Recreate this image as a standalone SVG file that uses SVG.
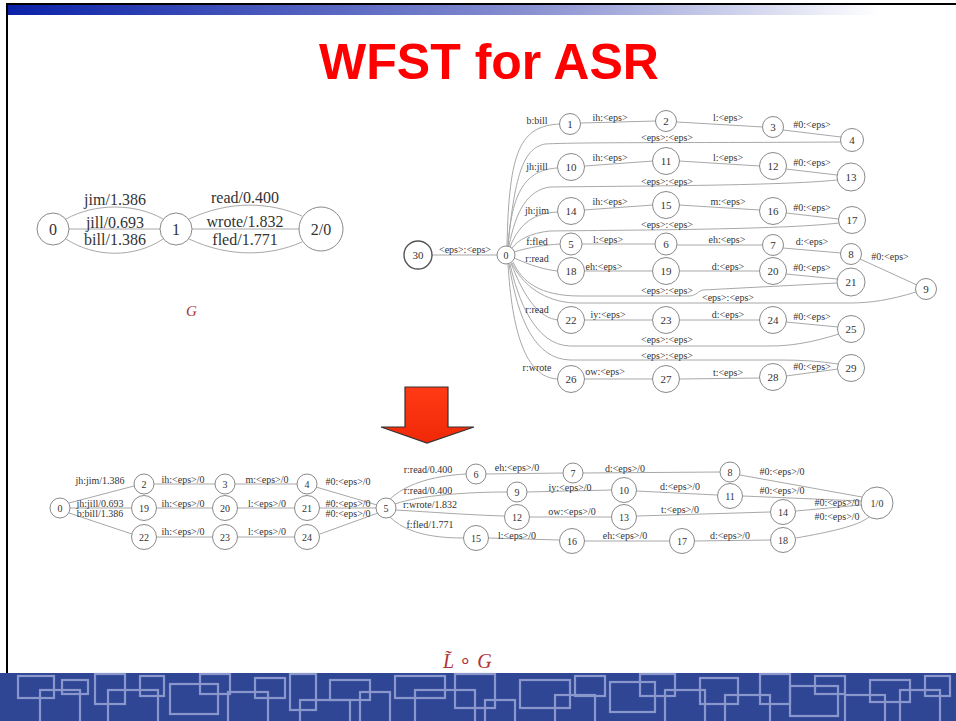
<svg xmlns="http://www.w3.org/2000/svg" width="956" height="721" viewBox="0 0 956 721">
<defs>
<linearGradient id="topbar" x1="0" y1="0" x2="1" y2="0">
<stop offset="0" stop-color="#0a22a8"/>
<stop offset="0.55" stop-color="#8890d0"/>
<stop offset="0.92" stop-color="#ffffff"/>
</linearGradient>
<linearGradient id="arrowfill" x1="0" y1="0" x2="0" y2="1">
<stop offset="0" stop-color="#ff3a14"/>
<stop offset="1" stop-color="#f02808"/>
</linearGradient>
</defs>
<style>
.e{fill:none;stroke:#a8a8a8;stroke-width:1}
.n{fill:#fff;stroke:#8a8a8a;stroke-width:1}
.nb{fill:#fff;stroke:#555;stroke-width:1.4}
.t{font-family:"Liberation Serif","Times New Roman",serif;fill:#333;text-anchor:middle}
.s10{font-size:10px}
.s11{font-size:11px}
.s16{font-size:16px}
.g{font-family:"Liberation Serif","Times New Roman",serif;fill:#b0343a;font-style:italic}
.bp{fill:none;stroke:#8a97cc;stroke-width:2.2}
</style>
<rect x="0" y="0" width="956" height="721" fill="#fff"/>
<!-- frame -->
<rect x="7" y="3" width="949" height="2" fill="#000"/>
<rect x="8" y="5" width="948" height="10" fill="url(#topbar)"/>
<rect x="6" y="3" width="2" height="670" fill="#000"/>
<text x="489" y="79" font-family="Liberation Sans, Arial, sans-serif" font-size="50" font-weight="bold" fill="#f00" text-anchor="middle">WFST for ASR</text>

<!-- G graph -->
<g id="G-connectors">
<path class="e" d="M66,219 C95,203 135,203 163,219"/>
<path class="e" d="M69,229 L160,229"/>
<path class="e" d="M66,239 C95,258 135,258 163,239"/>
<path class="e" d="M189,219 C230,200 270,202 302,216"/>
<path class="e" d="M192,229 L299,229"/>
<path class="e" d="M189,239 C230,258 270,256 302,242"/>
<text class="t s16" x="115" y="205">jim/1.386</text>
<text class="t s16" x="115" y="228">jill/0.693</text>
<text class="t s16" x="115" y="245">bill/1.386</text>
<text class="t s16" x="245" y="203">read/0.400</text>
<text class="t s16" x="245" y="227">wrote/1.832</text>
<text class="t s16" x="245" y="245">fled/1.771</text>
</g>
<g id="G-n0"><circle class="n" cx="53" cy="229" r="16"/><text class="t s16" x="53" y="235">0</text></g>
<g id="G-n1"><circle class="n" cx="176" cy="229" r="16"/><text class="t s16" x="176" y="235">1</text></g>
<g id="G-n2"><circle class="n" cx="321" cy="229" r="22" stroke-width="1.5"/><text class="t s16" x="321" y="235">2/0</text></g>
<text class="g" x="186" y="316" font-size="15">G</text>

<!-- L graph -->
<g id="L-connectors">
<line class="e" x1="432" y1="255" x2="497" y2="255"/>
<path class="e" d="M507,246 C509,150 520,126 560,124"/>
<path class="e" d="M508,246 C512,185 530,170 557,168"/>
<path class="e" d="M510,247 C520,222 535,213 558,212"/>
<path class="e" d="M514,252 C530,247 545,245 560,244"/>
<path class="e" d="M514,258 C530,265 545,270 558,271"/>
<path class="e" d="M511,263 C525,300 540,318 558,320"/>
<path class="e" d="M508,264 C512,330 525,378 558,379"/>
<path class="e" d="M841,142 C700,143 580,142 545,144 C525,148 515,170 508,246"/>
<path class="e" d="M837,180 C780,186 620,186 550,187 C528,190 516,210 509,246"/>
<path class="e" d="M839,223 C780,230 620,230 550,231 C530,233 518,240 512,248"/>
<path class="e" d="M837,283 L703,290 C698,291 697,295 690,296 L580,296 C540,296 522,282 513,262"/>
<path class="e" d="M916,292 C890,300 870,303 850,303 L575,303 C545,302 522,285 512,263"/>
<path class="e" d="M839,334 C810,343 790,346 770,346 L570,346 C535,345 518,300 510,264"/>
<path class="e" d="M838,364 C820,361 800,360 780,360 L570,360 C535,359 518,320 509,264"/>
<line class="e" x1="581" y1="123" x2="656" y2="121"/>
<line class="e" x1="677" y1="122" x2="763" y2="127"/>
<line class="e" x1="783" y1="130" x2="841" y2="137"/>
<line class="e" x1="585" y1="166" x2="653" y2="161"/>
<line class="e" x1="679" y1="161" x2="760" y2="166"/>
<line class="e" x1="786" y1="169" x2="837" y2="175"/>
<line class="e" x1="584" y1="210" x2="653" y2="205"/>
<line class="e" x1="679" y1="205" x2="760" y2="210"/>
<line class="e" x1="786" y1="213" x2="839" y2="219"/>
<line class="e" x1="582" y1="244" x2="656" y2="244"/>
<line class="e" x1="677" y1="245" x2="763" y2="245"/>
<line class="e" x1="783" y1="248" x2="841" y2="253"/>
<line class="e" x1="860" y1="259" x2="917" y2="285"/>
<line class="e" x1="584" y1="271" x2="653" y2="271"/>
<line class="e" x1="680" y1="271" x2="760" y2="271"/>
<line class="e" x1="786" y1="274" x2="837" y2="279"/>
<line class="e" x1="584" y1="320" x2="653" y2="320"/>
<line class="e" x1="680" y1="320" x2="760" y2="320"/>
<line class="e" x1="786" y1="322" x2="838" y2="327"/>
<line class="e" x1="584" y1="379" x2="653" y2="379"/>
<line class="e" x1="680" y1="379" x2="760" y2="378"/>
<line class="e" x1="786" y1="376" x2="838" y2="369"/>
<text class="t s10" x="465" y="253">&lt;eps&gt;:&lt;eps&gt;</text>
<text class="t s10" x="537" y="124">b:bill</text>
<text class="t s10" x="537" y="170">jh:jill</text>
<text class="t s10" x="537" y="214">jh:jim</text>
<text class="t s10" x="537" y="245">f:fled</text>
<text class="t s10" x="537" y="262">r:read</text>
<text class="t s10" x="537" y="313">r:read</text>
<text class="t s10" x="537" y="371">r:wrote</text>
<text class="t s10" x="610" y="121">ih:&lt;eps&gt;</text>
<text class="t s10" x="728" y="121">l:&lt;eps&gt;</text>
<text class="t s10" x="812" y="128">#0:&lt;eps&gt;</text>
<text class="t s10" x="667" y="141">&lt;eps&gt;:&lt;eps&gt;</text>
<text class="t s10" x="610" y="161">ih:&lt;eps&gt;</text>
<text class="t s10" x="728" y="161">l:&lt;eps&gt;</text>
<text class="t s10" x="812" y="166">#0:&lt;eps&gt;</text>
<text class="t s10" x="667" y="185">&lt;eps&gt;:&lt;eps&gt;</text>
<text class="t s10" x="610" y="205">ih:&lt;eps&gt;</text>
<text class="t s10" x="728" y="205">m:&lt;eps&gt;</text>
<text class="t s10" x="812" y="211">#0:&lt;eps&gt;</text>
<text class="t s10" x="667" y="228">&lt;eps&gt;:&lt;eps&gt;</text>
<text class="t s10" x="608" y="243">l:&lt;eps&gt;</text>
<text class="t s10" x="727" y="243">eh:&lt;eps&gt;</text>
<text class="t s10" x="812" y="245">d:&lt;eps&gt;</text>
<text class="t s10" x="890" y="260">#0:&lt;eps&gt;</text>
<text class="t s10" x="604" y="270">eh:&lt;eps&gt;</text>
<text class="t s10" x="728" y="270">d:&lt;eps&gt;</text>
<text class="t s10" x="812" y="271">#0:&lt;eps&gt;</text>
<text class="t s10" x="667" y="294">&lt;eps&gt;:&lt;eps&gt;</text>
<text class="t s10" x="728" y="301">&lt;eps&gt;:&lt;eps&gt;</text>
<text class="t s10" x="608" y="318">iy:&lt;eps&gt;</text>
<text class="t s10" x="728" y="318">d:&lt;eps&gt;</text>
<text class="t s10" x="812" y="320">#0:&lt;eps&gt;</text>
<text class="t s10" x="667" y="343">&lt;eps&gt;:&lt;eps&gt;</text>
<text class="t s10" x="667" y="359">&lt;eps&gt;:&lt;eps&gt;</text>
<text class="t s10" x="605" y="375">ow:&lt;eps&gt;</text>
<text class="t s10" x="728" y="376">t:&lt;eps&gt;</text>
<text class="t s10" x="812" y="370">#0:&lt;eps&gt;</text>
</g>
<g id="L-n30"><circle class="nb" cx="418" cy="255" r="14"/><text class="t s11" x="418" y="259">30</text></g>
<g id="L-n0"><circle class="n" cx="506" cy="255" r="9"/><text class="t s10" x="506" y="259">0</text></g>
<g id="L-n1"><circle class="n" cx="570" cy="124" r="10.5"/><text class="t s11" x="570" y="128">1</text></g>
<g id="L-n2"><circle class="n" cx="666" cy="121" r="10.5"/><text class="t s11" x="666" y="125">2</text></g>
<g id="L-n3"><circle class="n" cx="773" cy="127" r="10.5"/><text class="t s11" x="773" y="131">3</text></g>
<g id="L-n4"><circle class="n" cx="852" cy="140" r="11.5"/><text class="t s11" x="852" y="144">4</text></g>
<g id="L-n10"><circle class="n" cx="571" cy="167" r="13.5"/><text class="t s11" x="571" y="171">10</text></g>
<g id="L-n11"><circle class="n" cx="666" cy="161" r="13.5"/><text class="t s11" x="666" y="165">11</text></g>
<g id="L-n12"><circle class="n" cx="773" cy="166" r="13.5"/><text class="t s11" x="773" y="170">12</text></g>
<g id="L-n13"><circle class="n" cx="851" cy="177" r="14"/><text class="t s11" x="851" y="181">13</text></g>
<g id="L-n14"><circle class="n" cx="571" cy="211" r="13.5"/><text class="t s11" x="571" y="215">14</text></g>
<g id="L-n15"><circle class="n" cx="666" cy="205" r="13.5"/><text class="t s11" x="666" y="209">15</text></g>
<g id="L-n16"><circle class="n" cx="773" cy="211" r="13.5"/><text class="t s11" x="773" y="215">16</text></g>
<g id="L-n17"><circle class="n" cx="852" cy="220" r="13.5"/><text class="t s11" x="852" y="224">17</text></g>
<g id="L-n5"><circle class="n" cx="571" cy="244" r="11"/><text class="t s11" x="571" y="248">5</text></g>
<g id="L-n6"><circle class="n" cx="666" cy="244" r="11"/><text class="t s11" x="666" y="248">6</text></g>
<g id="L-n7"><circle class="n" cx="773" cy="245" r="10.5"/><text class="t s11" x="773" y="249">7</text></g>
<g id="L-n8"><circle class="n" cx="851" cy="254" r="10.5"/><text class="t s11" x="851" y="258">8</text></g>
<g id="L-n9"><circle class="n" cx="926" cy="289" r="10.5"/><text class="t s11" x="926" y="293">9</text></g>
<g id="L-n18"><circle class="n" cx="571" cy="271" r="13.5"/><text class="t s11" x="571" y="275">18</text></g>
<g id="L-n19"><circle class="n" cx="666" cy="271" r="13.5"/><text class="t s11" x="666" y="275">19</text></g>
<g id="L-n20"><circle class="n" cx="773" cy="271" r="13.5"/><text class="t s11" x="773" y="275">20</text></g>
<g id="L-n21"><circle class="n" cx="851" cy="282" r="14"/><text class="t s11" x="851" y="286">21</text></g>
<g id="L-n22"><circle class="n" cx="571" cy="320" r="13.5"/><text class="t s11" x="571" y="324">22</text></g>
<g id="L-n23"><circle class="n" cx="666" cy="320" r="13.5"/><text class="t s11" x="666" y="324">23</text></g>
<g id="L-n24"><circle class="n" cx="773" cy="320" r="13.5"/><text class="t s11" x="773" y="324">24</text></g>
<g id="L-n25"><circle class="n" cx="851" cy="329" r="13.5"/><text class="t s11" x="851" y="333">25</text></g>
<g id="L-n26"><circle class="n" cx="571" cy="379" r="13.5"/><text class="t s11" x="571" y="383">26</text></g>
<g id="L-n27"><circle class="n" cx="666" cy="379" r="13.5"/><text class="t s11" x="666" y="383">27</text></g>
<g id="L-n28"><circle class="n" cx="773" cy="377" r="13.5"/><text class="t s11" x="773" y="381">28</text></g>
<g id="L-n29"><circle class="n" cx="851" cy="368" r="13.5"/><text class="t s11" x="851" y="372">29</text></g>

<!-- arrow -->
<g id="down-arrow"><polygon points="405,387 448,387 448,427 474,427 427,443 381,427 405,427" fill="url(#arrowfill)" stroke="#333" stroke-width="1.2"/></g>

<!-- LoG graph -->
<g id="LG-connectors">
<line class="e" x1="69" y1="503" x2="134" y2="486"/>
<line class="e" x1="70" y1="508" x2="131" y2="508"/>
<line class="e" x1="69" y1="513" x2="132" y2="534"/>
<line class="e" x1="154" y1="484" x2="215" y2="484"/>
<line class="e" x1="235" y1="484" x2="297" y2="484"/>
<line class="e" x1="316" y1="487" x2="377" y2="505"/>
<line class="e" x1="157" y1="508" x2="212" y2="508"/>
<line class="e" x1="238" y1="508" x2="294" y2="508"/>
<line class="e" x1="320" y1="508" x2="376" y2="508"/>
<line class="e" x1="157" y1="537" x2="212" y2="537"/>
<line class="e" x1="238" y1="537" x2="294" y2="537"/>
<line class="e" x1="320" y1="534" x2="378" y2="513"/>
<path class="e" d="M390,499 C405,485 430,476 466,474"/>
<path class="e" d="M395,504 C420,495 470,492 507,492"/>
<path class="e" d="M396,510 C430,512 470,515 504,516"/>
<path class="e" d="M390,517 C405,532 430,538 463,538"/>
<line class="e" x1="486" y1="474" x2="563" y2="473"/>
<line class="e" x1="583" y1="473" x2="720" y2="472"/>
<line class="e" x1="740" y1="475" x2="862" y2="497"/>
<line class="e" x1="527" y1="492" x2="611" y2="490"/>
<line class="e" x1="636" y1="491" x2="717" y2="495"/>
<line class="e" x1="743" y1="496" x2="861" y2="501"/>
<line class="e" x1="530" y1="517" x2="611" y2="517"/>
<line class="e" x1="637" y1="516" x2="770" y2="512"/>
<line class="e" x1="796" y1="511" x2="861" y2="505"/>
<line class="e" x1="489" y1="538" x2="559" y2="540"/>
<line class="e" x1="585" y1="541" x2="669" y2="541"/>
<line class="e" x1="695" y1="541" x2="770" y2="540"/>
<path class="e" d="M796,538 C830,532 858,526 869,517"/>
<text class="t s10" x="100" y="484">jh:jim/1.386</text>
<text class="t s10" x="100" y="507">jh:jill/0.693</text>
<text class="t s10" x="100" y="517">b:bill/1.386</text>
<text class="t s10" x="183" y="483">ih:&lt;eps&gt;/0</text>
<text class="t s10" x="267" y="483">m:&lt;eps&gt;/0</text>
<text class="t s10" x="348" y="485">#0:&lt;eps&gt;/0</text>
<text class="t s10" x="183" y="507">ih:&lt;eps&gt;/0</text>
<text class="t s10" x="267" y="507">l:&lt;eps&gt;/0</text>
<text class="t s10" x="348" y="507">#0:&lt;eps&gt;/0</text>
<text class="t s10" x="348" y="517">#0:&lt;eps&gt;/0</text>
<text class="t s10" x="183" y="535">ih:&lt;eps&gt;/0</text>
<text class="t s10" x="267" y="535">l:&lt;eps&gt;/0</text>
<text class="t s10" x="428" y="473">r:read/0.400</text>
<text class="t s10" x="428" y="494">r:read/0.400</text>
<text class="t s10" x="430" y="508">r:wrote/1.832</text>
<text class="t s10" x="430" y="528">f:fled/1.771</text>
<text class="t s10" x="517" y="471">eh:&lt;eps&gt;/0</text>
<text class="t s10" x="625" y="472">d:&lt;eps&gt;/0</text>
<text class="t s10" x="782" y="475">#0:&lt;eps&gt;/0</text>
<text class="t s10" x="570" y="491">iy:&lt;eps&gt;/0</text>
<text class="t s10" x="680" y="490">d:&lt;eps&gt;/0</text>
<text class="t s10" x="782" y="494">#0:&lt;eps&gt;/0</text>
<text class="t s10" x="572" y="515">ow:&lt;eps&gt;/0</text>
<text class="t s10" x="680" y="513">t:&lt;eps&gt;/0</text>
<text class="t s10" x="837" y="506">#0:&lt;eps&gt;/0</text>
<text class="t s10" x="837" y="520">#0:&lt;eps&gt;/0</text>
<text class="t s10" x="517" y="539">l:&lt;eps&gt;/0</text>
<text class="t s10" x="625" y="539">eh:&lt;eps&gt;/0</text>
<text class="t s10" x="730" y="539">d:&lt;eps&gt;/0</text>
</g>
<g id="LG-n0"><circle class="n" cx="60" cy="508" r="10"/><text class="t s10" x="60" y="512">0</text></g>
<g id="LG-n2"><circle class="n" cx="144" cy="484" r="10"/><text class="t s10" x="144" y="488">2</text></g>
<g id="LG-n19"><circle class="n" cx="144" cy="508" r="12.5"/><text class="t s10" x="144" y="512">19</text></g>
<g id="LG-n22"><circle class="n" cx="144" cy="537" r="12.5"/><text class="t s10" x="144" y="541">22</text></g>
<g id="LG-n3"><circle class="n" cx="225" cy="484" r="10"/><text class="t s10" x="225" y="488">3</text></g>
<g id="LG-n20"><circle class="n" cx="225" cy="508" r="12.5"/><text class="t s10" x="225" y="512">20</text></g>
<g id="LG-n23"><circle class="n" cx="225" cy="537" r="12.5"/><text class="t s10" x="225" y="541">23</text></g>
<g id="LG-n4"><circle class="n" cx="307" cy="484" r="10"/><text class="t s10" x="307" y="488">4</text></g>
<g id="LG-n21"><circle class="n" cx="307" cy="508" r="12.5"/><text class="t s10" x="307" y="512">21</text></g>
<g id="LG-n24"><circle class="n" cx="307" cy="537" r="12.5"/><text class="t s10" x="307" y="541">24</text></g>
<g id="LG-n5"><circle class="n" cx="386" cy="508" r="10"/><text class="t s10" x="386" y="512">5</text></g>
<g id="LG-n6"><circle class="n" cx="476" cy="474" r="10"/><text class="t s10" x="476" y="478">6</text></g>
<g id="LG-n7"><circle class="n" cx="573" cy="473" r="10"/><text class="t s10" x="573" y="477">7</text></g>
<g id="LG-n8"><circle class="n" cx="730" cy="472" r="10"/><text class="t s10" x="730" y="476">8</text></g>
<g id="LG-n9"><circle class="n" cx="517" cy="492" r="10"/><text class="t s10" x="517" y="496">9</text></g>
<g id="LG-n10"><circle class="n" cx="624" cy="490" r="12.5"/><text class="t s10" x="624" y="494">10</text></g>
<g id="LG-n11"><circle class="n" cx="730" cy="496" r="12.5"/><text class="t s10" x="730" y="500">11</text></g>
<g id="LG-n12"><circle class="n" cx="517" cy="517" r="12.5"/><text class="t s10" x="517" y="521">12</text></g>
<g id="LG-n13"><circle class="n" cx="624" cy="517" r="12.5"/><text class="t s10" x="624" y="521">13</text></g>
<g id="LG-n14"><circle class="n" cx="783" cy="512" r="12.5"/><text class="t s10" x="783" y="516">14</text></g>
<g id="LG-n15"><circle class="n" cx="476" cy="538" r="12.5"/><text class="t s10" x="476" y="542">15</text></g>
<g id="LG-n16"><circle class="n" cx="572" cy="541" r="12.5"/><text class="t s10" x="572" y="545">16</text></g>
<g id="LG-n17"><circle class="n" cx="682" cy="541" r="12.5"/><text class="t s10" x="682" y="545">17</text></g>
<g id="LG-n18"><circle class="n" cx="783" cy="540" r="12.5"/><text class="t s10" x="783" y="544">18</text></g>
<g id="LG-n1"><circle class="n" cx="877" cy="503" r="16"/><text class="t s10" x="877" y="507">1/0</text></g>

<text class="g" x="443" y="668" font-size="20">L&#x303;<tspan font-style="normal" dx="5">∘</tspan><tspan dx="5">G</tspan></text>

<!-- banner -->
<rect x="0" y="673" width="956" height="48" fill="#2f4695"/>
<g>
<rect class="bp" x="18" y="676" width="36" height="22"/>
<rect class="bp" x="40" y="690" width="40" height="40"/>
<rect class="bp" x="62" y="680" width="26" height="14"/>
<rect class="bp" x="95" y="674" width="30" height="30"/>
<rect class="bp" x="108" y="690" width="50" height="40"/>
<rect class="bp" x="140" y="676" width="24" height="20"/>
<rect class="bp" x="170" y="684" width="48" height="30"/>
<rect class="bp" x="200" y="674" width="30" height="20"/>
<rect class="bp" x="228" y="692" width="40" height="36"/>
<rect class="bp" x="255" y="678" width="30" height="20"/>
<rect class="bp" x="290" y="674" width="26" height="36"/>
<rect class="bp" x="300" y="700" width="50" height="30"/>
<rect class="bp" x="330" y="680" width="40" height="20"/>
<rect class="bp" x="360" y="692" width="30" height="36"/>
<rect class="bp" x="395" y="676" width="50" height="22"/>
<rect class="bp" x="415" y="690" width="60" height="40"/>
<rect class="bp" x="455" y="674" width="40" height="34"/>
<rect class="bp" x="485" y="700" width="30" height="30"/>
<rect class="bp" x="520" y="680" width="50" height="28"/>
<rect class="bp" x="555" y="695" width="40" height="35"/>
<rect class="bp" x="575" y="676" width="30" height="20"/>
<rect class="bp" x="610" y="682" width="45" height="30"/>
<rect class="bp" x="640" y="674" width="35" height="22"/>
<rect class="bp" x="665" y="690" width="40" height="40"/>
<rect class="bp" x="700" y="678" width="38" height="26"/>
<rect class="bp" x="725" y="695" width="45" height="35"/>
<rect class="bp" x="760" y="674" width="30" height="30"/>
<rect class="bp" x="790" y="686" width="48" height="30"/>
<rect class="bp" x="815" y="676" width="30" height="18"/>
<rect class="bp" x="845" y="695" width="40" height="35"/>
<rect class="bp" x="870" y="680" width="40" height="22"/>
<rect class="bp" x="900" y="690" width="40" height="40"/>
<rect class="bp" x="925" y="676" width="25" height="20"/>
</g>
</svg>
